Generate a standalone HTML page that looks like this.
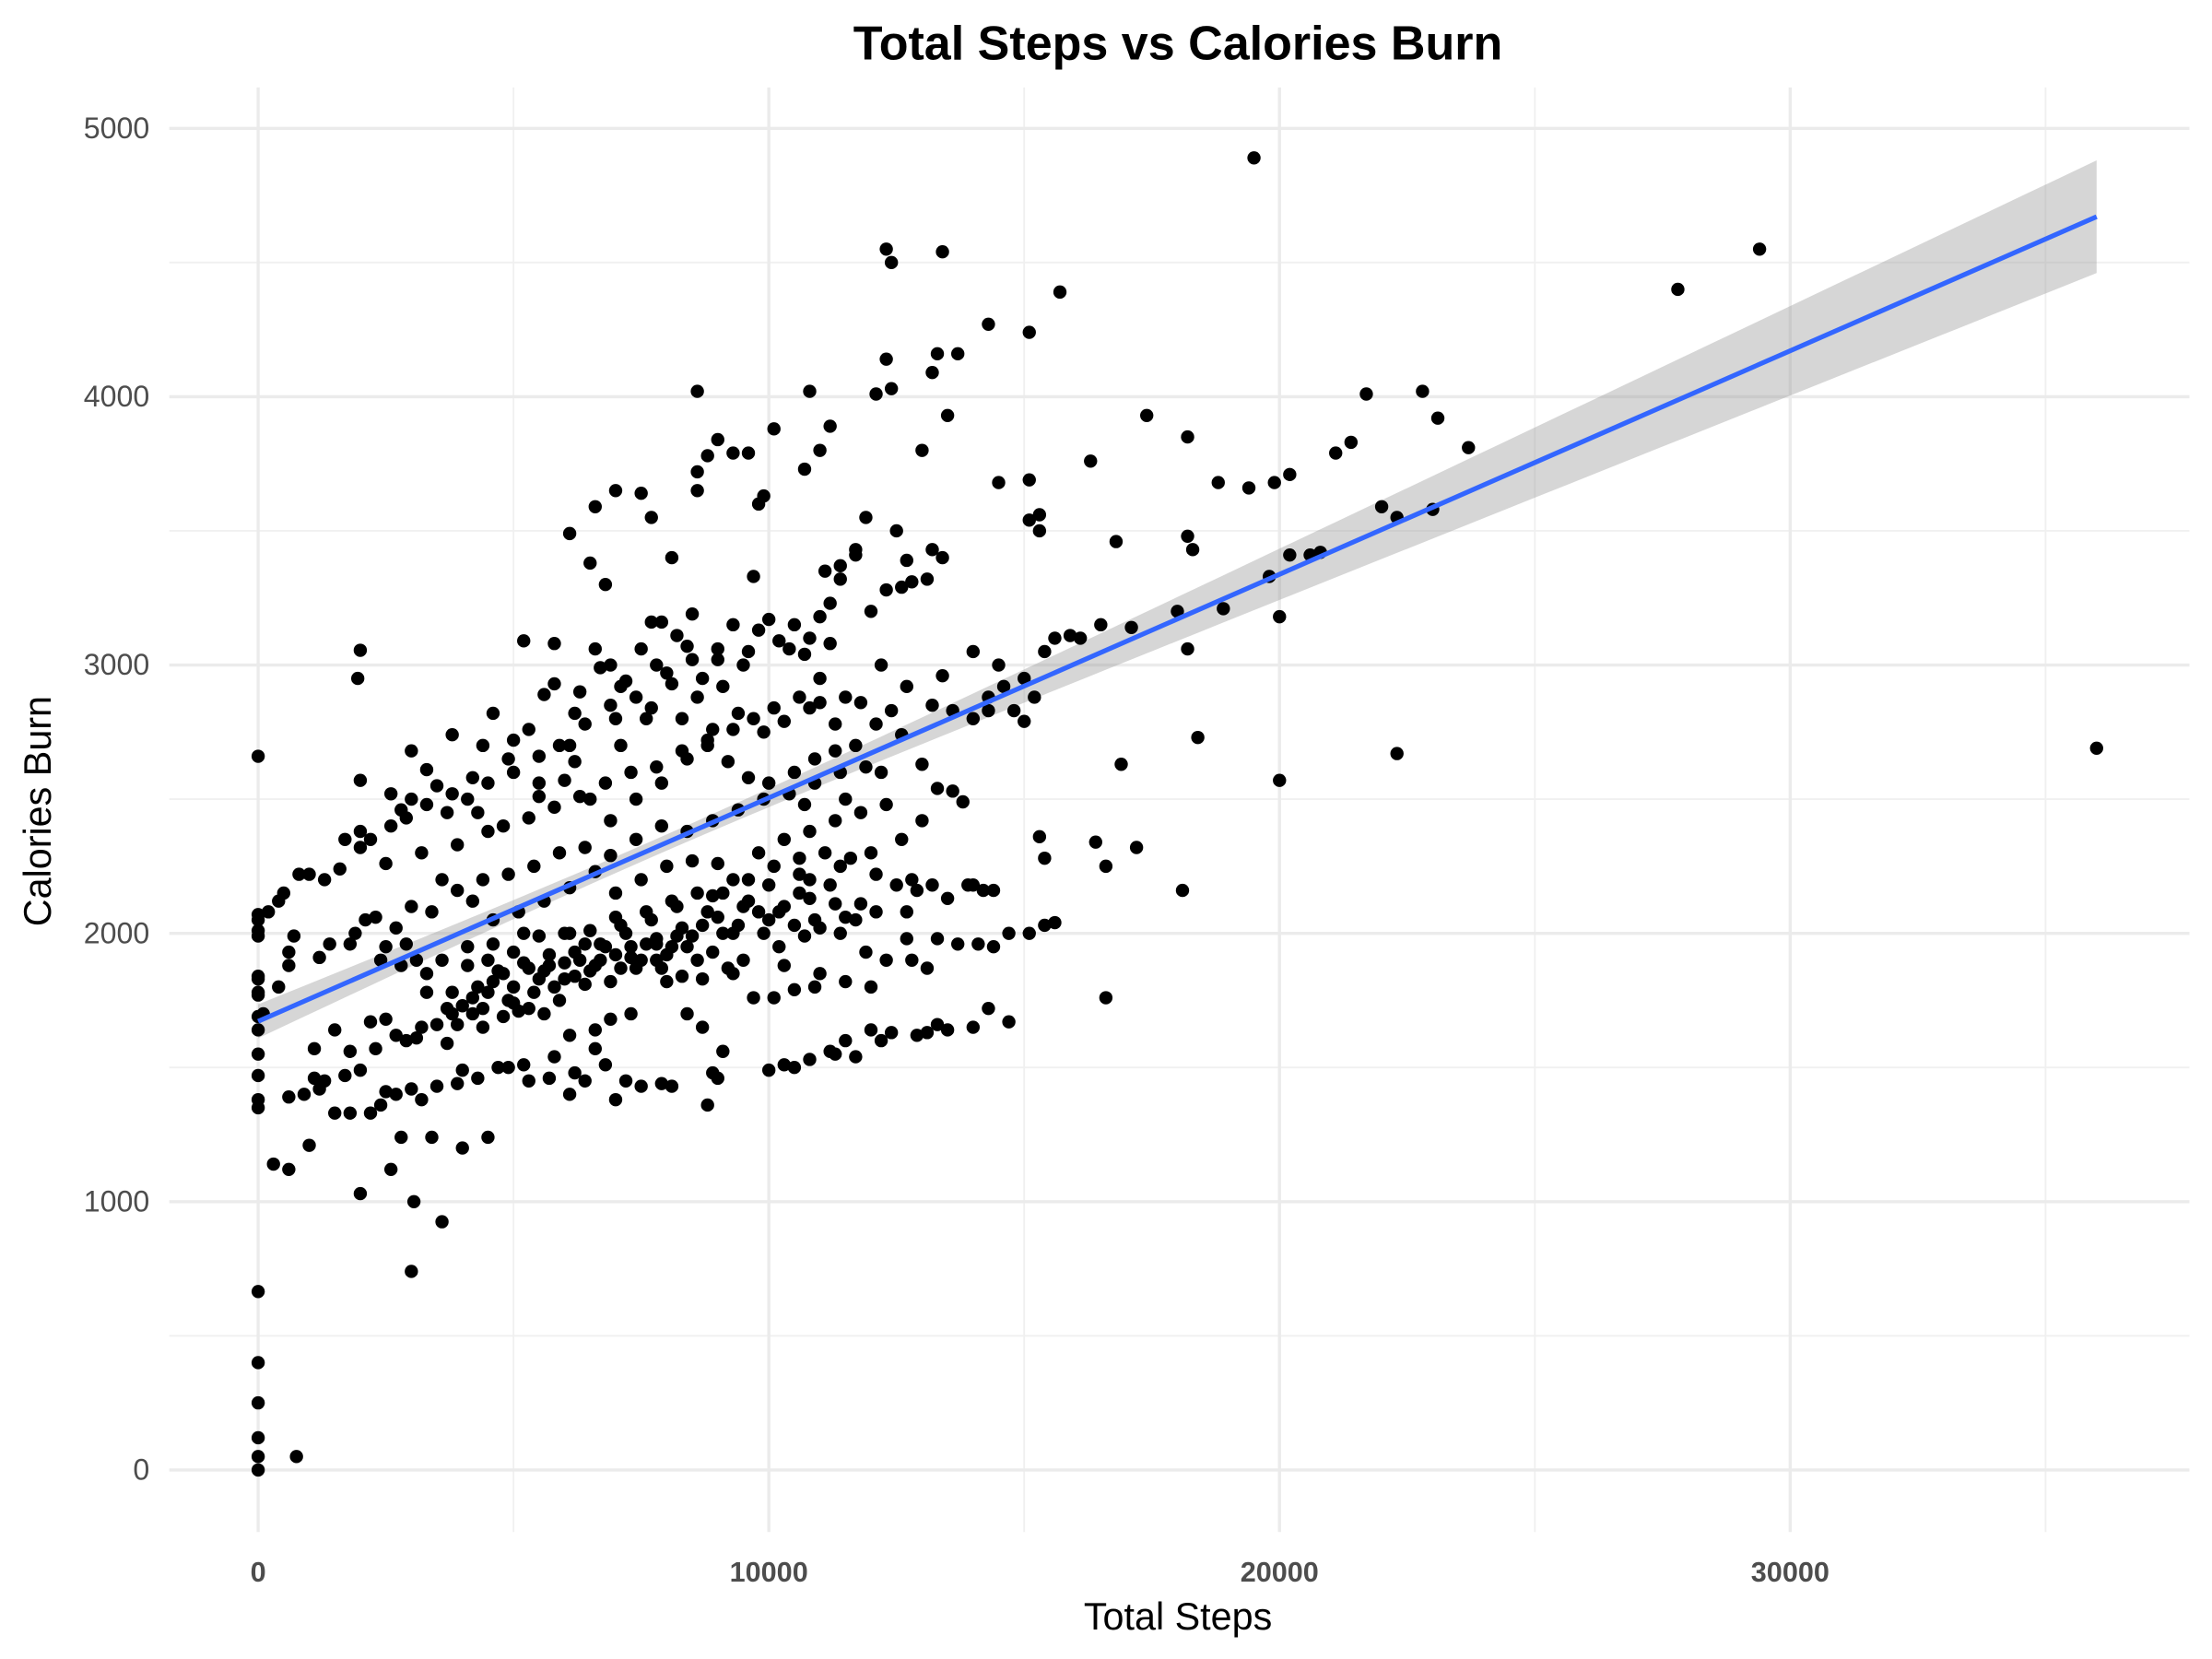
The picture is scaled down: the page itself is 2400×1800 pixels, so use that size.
<!DOCTYPE html>
<html><head><meta charset="utf-8"><style>
html,body{margin:0;padding:0;background:#fff;}
svg{display:block;font-family:"Liberation Sans",Arial,sans-serif;}
</style></head><body>
<svg id="chart" width="2400" height="1800" viewBox="0 0 1568 1176" xmlns="http://www.w3.org/2000/svg">
<rect width="1568" height="1176" fill="#fff"/>
<g id="grid"></g>
<g id="band"></g>
<g id="pts"></g>
<g id="fit"></g>
<g id="ticks"></g>
<text x="835" y="42" text-anchor="middle" font-size="34" font-weight="bold" fill="#000">Total Steps vs Calories Burn</text>
<text x="835" y="1155" text-anchor="middle" font-size="27" fill="#000">Total Steps</text>
<text transform="translate(36,575) rotate(-90)" text-anchor="middle" font-size="27" fill="#000">Calories Burn</text>
</svg>
<script>
const xTicks=[0,10000,20000,30000];
const xTickLabels=["0","10000","20000","30000"];
const xMinor=[5000,15000,25000,35000];
const yTicks=[0,1000,2000,3000,4000,5000];
const yTickLabels=["0","1000","2000","3000","4000","5000"];
const yMinor=[500,1500,2500,3500,4500];
const fitIntercept=[1672];
const fitSlope=[0.0833];
const fitSE=[30,5.36e-5,7600];
const steps=[0,0,0,0,0,0,750,0,0,0,0,0,0,0,0,
3000,3050,3600,2000,2600,600,300,1000,4000,4500,1950,2000,
8600,12300,12400,13400,15700,14300,15100,12300,13200,13300,13700,12100,12400,10800,10100,11200,13500,19500,27800,29400,36000,17400,18200,21700,22800,23100,23700,21400,21100,16300,18800,19400,19900,20200,22000,22300,23000,20200,20600,20800,19800,18200,18300,16800,17100,16500,18000,18900,20000,18200,18400,16900,20000,22300,17200,16400,16600,18100,16600,14500,15100,15300,15100,15300,13000,9000,9300,9600,8800,8600,8600,7500,6600,7000,6100,6500,6800,7700,8100,9800,9900,10700,11000,11900,12500,13200,13400,12700,11400,11700,11100,
600,900,1200,1300,1700,2000,2200,2400,2700,3000,3200,3500,3900,4300,4900,5300,5800,6100,6400,6800,7000,7200,7500,8100,8800,8900,9000,10000,10300,10800,11200,11700,12000,12400,13100,13500,14000,14300,14700,9100,11500,12900,13300,10500,11300,12200,1100,1500,1800,2500,3400,2800,4000,5200,5700,6200,6600,7900,4700,3700,3100,2900,2300,1800,
0,0,0,0,0,0,0,100,200,400,500,600,700,800,1000,1200,1300,1400,1600,1800,1900,2100,2300,2500,2700,400,600,1100,1500,2200,2500,2800,3100,3300,3500,3800,4000,4200,4400,4600,4900,5100,5400,5600,5800,6000,6200,6500,6700,7000,7300,7500,7800,8000,8200,8500,8700,9000,9300,9500,9800,10000,10300,10600,10900,11200,11500,11800,12100,12500,12900,13300,13700,14100,14400,14700,15100,15400,12300,12800,13100,11000,10500,10100,9700,9200,8700,8300,7900,7400,6900,6400,5900,5300,4800,4300,3800,4100,4500,5000,5500,6000,6500,7100,7600,8100,8600,9100,9600,10100,10600,11100,11600,12100,14000,14400,13500,12700,11400,10700,10200,9500,8900,8400,7800,7200,6700,6200,5700,5200,4700,4200,3700,3200,2700,3000,3400,3900,4400,4900,5400,5900,6400,6900,7400,7900,8400,8900,9400,9900,10400,10900,11400,11900,3600,4200,4600,5100,5600,6100,6600,7000,7500,8000,8500,9000,9800,10300,10800,11300,11800,12300,7300,6900,8400,8700,10900,11500,12000,2000,2200,2600,2900,3300,3800,4100,4500,1700,2000,
2000,2600,3000,3300,3800,4400,4600,4900,5300,5600,5800,6100,6400,6700,6900,7200,7500,7800,7900,8200,8500,8700,9000,9300,9500,9800,10000,10200,10500,10800,11000,11200,11400,11700,12000,12300,12600,12800,13100,12700,12400,12100,11700,11300,10900,10500,10000,9600,9200,8800,8400,7900,7400,6900,6500,6000,5500,5000,5200,5800,6600,7100,7700,8300,8900,9400,9900,10300,10800,11300,11800,12600,13000,13300,13600,13800,13200,13600,14000,14300,14600,15000,15400,15200,14800,14000,14500,15600,15900,16100,15300,15400,14200,13900,13200,12800,15600,15000,14300,13400,12200,11500,10700,3700,3000,4500,5500,6200,7100,7600,8100,8600,9100,9700,10700,11000,11500,12200,8500,7700,6900,6200,
4500,4800,5000,5300,5500,5700,6000,6300,6600,6800,7100,7300,7600,7800,8100,8300,8600,8800,9100,9400,9600,9900,10200,10500,10800,11000,11300,11700,6100,6400,7000,7700,8200,8900,9300,10000,10600,5200,4600,4100,3600,3300,3900,4400,5000,5600,6100,6600,2900,2400,4300,4800,5300,5800,6300,6800,7300,7800,8300,8800,9300,9700,10100,10600,11000,5900,6300,7000,7400,8000,8400,9000,9600,10400,11200,4200,3500,2800,5000,5500,2500,3200,3900,10800,11400,12000,12600,13000,8000,9300,10300,11900,12700];
const calories=[0,50,120,250,400,665,50,1350,1380,1470,1550,2070,2660,1840,1770,
740,1000,925,1030,1120,1120,1140,1210,1200,1240,2950,3055,
4020,4550,4500,4540,4390,4270,4240,4140,4090,4160,4160,4010,4030,4020,3880,3890,3930,4890,4400,4550,2690,3930,3850,4010,4020,3920,3810,3830,3790,3760,3680,3660,3680,3710,3590,3550,3580,3410,3410,3420,3330,3480,3430,3460,3140,3150,3200,3210,3180,3060,2730,2630,2570,2670,2320,2340,2250,2160,1760,3680,3690,3560,3540,3500,3800,3840,3790,3790,3780,3720,3650,3640,3590,3650,3490,3380,3300,3550,3400,3600,3630,3730,3800,3550,3500,3430,3400,3390,3370,3430,3350,
1390,1400,1420,1450,1470,1490,1330,1360,1400,1420,1380,1430,1440,1460,1500,1450,1540,1400,1450,1510,1380,1450,1430,1430,1360,1480,1460,1490,1510,1530,1560,1540,1640,1630,1630,1640,1650,1720,1670,1560,1600,1620,1660,1500,1550,1600,1460,1330,1330,1410,1240,1240,1490,1510,1460,1480,1570,1440,1500,1590,1610,1600,1570,1560,
1640,1690,1780,1830,1990,2010,2050,1700,2080,2120,2150,1930,1990,2220,2220,1910,2200,1960,2240,1960,2000,2050,2060,1950,2020,1800,1880,1570,1640,1670,1680,1880,1900,1850,1660,1700,1730,1700,1650,1820,1750,1710,1780,1860,1800,1890,1840,1860,1900,1920,1950,1900,1960,1920,1990,1990,2030,2060,2000,2100,2080,2050,2100,2150,2050,2180,2060,2110,2080,2180,2160,1980,1960,1960,1950,2000,2000,2030,1900,1900,1870,1850,1790,1760,1760,1870,1830,1840,1870,1870,1820,1810,1750,1720,1690,1800,1780,1880,1900,1930,1990,2000,2010,2030,2080,2120,2150,2150,2200,2250,2280,2300,2280,2220,2180,2160,2130,2080,2000,1990,1950,1900,1930,1950,1980,2000,1960,1930,1920,1890,1860,1760,1720,1650,1620,2100,2080,2160,2200,2220,2250,2300,2320,2290,2350,2400,2380,2420,2460,2500,2520,2560,2600,2620,2200,2120,2050,2080,2120,2170,2230,2150,2200,2250,2270,2260,2300,2350,2380,2420,2450,2480,1700,1680,1700,1650,1800,1820,1800,2320,2350,2400,2430,2480,2520,2500,2560,2350,2380,
2570,2520,2680,2610,2740,2700,2820,2650,2760,2890,2930,2700,2780,2990,2850,2940,3060,3000,3160,3110,3020,2950,3060,3150,3000,3130,3170,3090,3150,3100,3180,3230,3320,3410,3200,3280,3290,3310,3320,2920,2830,2780,2700,2680,2650,2600,2560,2580,2640,2700,2650,2560,2500,2420,2500,2570,2510,2600,3090,3080,3060,2920,2840,2800,2760,2820,2750,2790,2840,2780,2860,2740,2630,2540,2530,2490,2850,2830,2800,2880,2920,2950,3050,2880,2830,3050,3000,3100,3110,3100,2360,2280,2160,2180,2180,2200,2040,2790,2830,2960,2600,2500,2480,2450,2500,2380,2660,2640,2700,2800,2930,2880,2920,3330,3040,2950,2880,3000,3190,3160,3000,2820,
1780,1850,1800,1870,1830,1880,1830,1900,1880,1950,1870,1910,1960,1900,1950,2020,1900,2080,2000,2030,2120,2000,2080,2030,2130,2020,2110,2050,2000,1960,2060,2050,2100,2140,2200,2180,2220,2000,1960,1950,1900,1780,1660,1720,1740,1700,1620,1640,1960,1900,2450,2400,2430,2470,2510,2560,2600,2620,2680,2720,2760,2800,2840,2880,2860,2700,2900,2800,2880,2970,3070,3020,3050,3060,3080,2580,2550,2460,2720,2560,2260,2300,2330,2200,2250,2300,2350,2420,1820,1850,1880,1930,1980];

const NS="http://www.w3.org/2000/svg";
const X0=183,XS=362/10000,Y0=1042,YS=190.2/1000;
const PL=120,PR=1552,PT=62,PB=1086;
function sx(v){return X0+v*XS;}
function sy(v){return Y0-v*YS;}
function mk(tag,attrs,parent){const e=document.createElementNS(NS,tag);for(const k in attrs)e.setAttribute(k,attrs[k]);parent.appendChild(e);return e;}
const grid=document.getElementById('grid');
xMinor.forEach(v=>{const l=mk('line',{x1:sx(v),x2:sx(v),y1:PT,y2:PB,stroke:'#f0f0f0','stroke-width':1.2},grid);

});
yMinor.forEach(v=>{const l=mk('line',{x1:PL,x2:PR,y1:sy(v),y2:sy(v),stroke:'#f0f0f0','stroke-width':1.2},grid);

});
xTicks.forEach(v=>{const l=mk('line',{x1:sx(v),x2:sx(v),y1:PT,y2:PB,stroke:'#ebebeb','stroke-width':2.2},grid);

});
yTicks.forEach(v=>{const l=mk('line',{x1:PL,x2:PR,y1:sy(v),y2:sy(v),stroke:'#ebebeb','stroke-width':2.2},grid);

});
const ticks=document.getElementById('ticks');
xTicks.forEach((v,i)=>{const t=mk('text',{x:sx(v),y:1121,'text-anchor':'middle','font-size':20,'font-weight':'bold',fill:'#4d4d4d'},ticks);t.textContent=xTickLabels[i];

});
yTicks.forEach((v,i)=>{const t=mk('text',{x:106,y:sy(v)+7,'text-anchor':'end','font-size':21,fill:'#4d4d4d'},ticks);t.textContent=yTickLabels[i];

});
const xmin=0,xmax=36000;
const b0=fitIntercept[0],b1=fitSlope[0];
function hw(x){return Math.sqrt(fitSE[0]*fitSE[0]+fitSE[1]*Math.pow(x-fitSE[2],2));}
let up=[],lo=[];
for(let k=0;k<=80;k++){const x=xmin+(xmax-xmin)*k/80;const y=b0+b1*x;up.push(sx(x)+','+sy(y+hw(x)));lo.unshift(sx(x)+','+sy(y-hw(x)));}
const poly=mk('polygon',{points:up.concat(lo).join(' '),fill:'#999','fill-opacity':0.4},document.getElementById('band'));


const pts=document.getElementById('pts');
for(let i=0;i<steps.length;i++){const c=mk('circle',{cx:sx(steps[i]),cy:sy(calories[i]),r:4.7,fill:'#000'},pts);

}
const ln=mk('line',{x1:sx(xmin),y1:sy(b0+b1*xmin),x2:sx(xmax),y2:sy(b0+b1*xmax),stroke:'#3366ff','stroke-width':3.4},document.getElementById('fit'));


</script>
</body></html>
